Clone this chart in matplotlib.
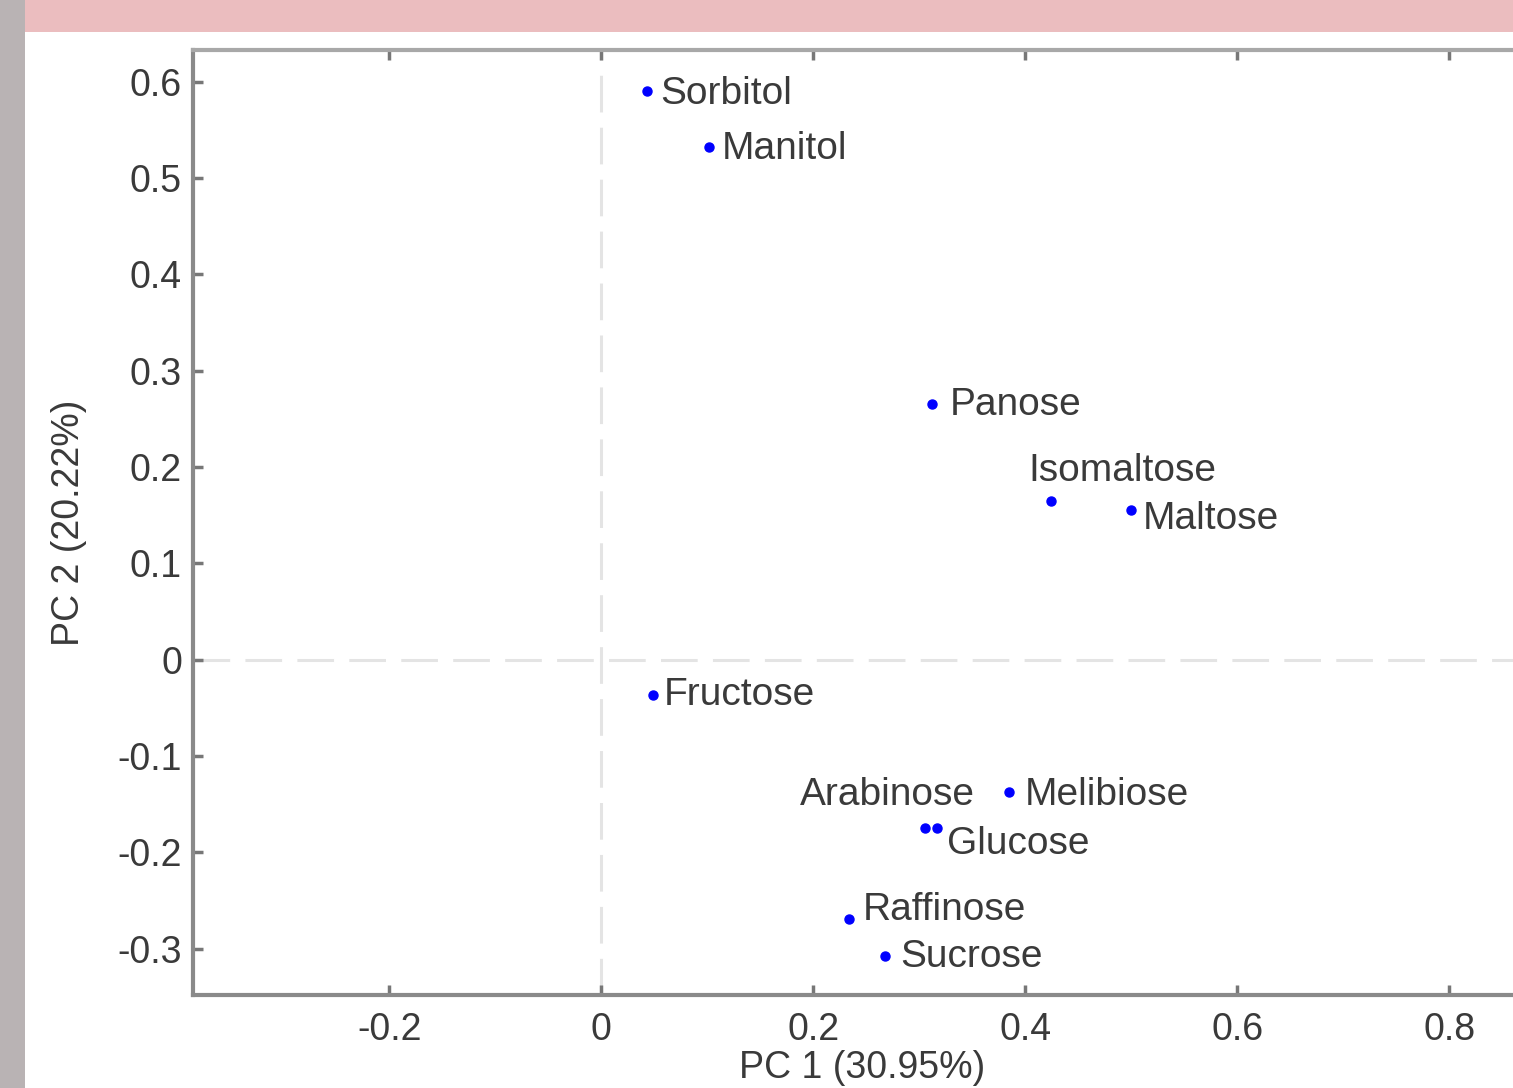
import matplotlib
matplotlib.use("Agg")
import matplotlib.pyplot as plt
from matplotlib.patches import Rectangle

plt.rcParams['font.family'] = ['Liberation Sans', 'DejaVu Sans']

names = ["Sorbitol", "Manitol", "Panose", "Isomaltose", "Maltose", "Fructose",
         "Melibiose", "Arabinose", "Glucose", "Raffinose", "Sucrose"]
pc1 = [0.043, 0.102, 0.312, 0.424, 0.500, 0.049, 0.385, 0.305, 0.317, 0.234, 0.268]
pc2 = [0.590, 0.532, 0.266, 0.165, 0.155, -0.037, -0.137, -0.175, -0.175, -0.269, -0.307]
xticks = [-0.2, 0, 0.2, 0.4, 0.6, 0.8]
xticklabels = ["-0.2", "0", "0.2", "0.4", "0.6", "0.8"]
yticks = [-0.3, -0.2, -0.1, 0, 0.1, 0.2, 0.3, 0.4, 0.5, 0.6]
yticklabels = ["-0.3", "-0.2", "-0.1", "0", "0.1", "0.2", "0.3", "0.4", "0.5", "0.6"]
xlabel = "PC 1 (30.95%)"
ylabel = "PC 2 (20.22%)"

# label offsets in points (dx, dy, ha)
offsets = {
    "Sorbitol": (10, -2, "left"),
    "Manitol": (9, -1, "left"),
    "Panose": (13, -1, "left"),
    "Isomaltose": (-16, 21.5, "left"),
    "Maltose": (8, -6.5, "left"),
    "Fructose": (8, 0, "left"),
    "Melibiose": (11, -2, "left"),
    "Arabinose": (36, 24, "right"),
    "Glucose": (7, -11, "left"),
    "Raffinose": (10, 6.5, "left"),
    "Sucrose": (11, -1, "left"),
}

W, H = 1513, 1088
fig = plt.figure(figsize=(W / 100, H / 100), dpi=100)
fig.patch.set_facecolor("#ebbdbf")

bg = fig.add_axes([0, 0, 1, 1], zorder=-5)
bg.set_xlim(0, W)
bg.set_ylim(H, 0)
bg.axis("off")
bg.add_patch(Rectangle((0, 0), 25, H, facecolor="#b9b3b4", edgecolor="none"))
bg.add_patch(Rectangle((25, 32), W - 25, H - 32, facecolor="white", edgecolor="none"))

ax = fig.add_axes([193 / W, 1 - 995 / H, (1531 - 193) / W, (995 - 50) / H], zorder=1)
ax.set_facecolor("none")
ax.set_xlim(-0.385, 0.877)
ax.set_ylim(-0.348, 0.633)

ax.axhline(0, color="#e4e4e4", lw=2.2, dashes=(12, 5), zorder=1)
ax.axvline(0, color="#e4e4e4", lw=2.2, dashes=(12, 5), zorder=1)

ax.plot(pc1, pc2, "o", color="#0000ff", ms=6.5, zorder=3, linestyle="none")

for n, x, y in zip(names, pc1, pc2):
    dx, dy, ha = offsets[n]
    ax.annotate(n, (x, y), xytext=(dx, dy), textcoords="offset points",
                ha=ha, va="center", fontsize=28, color="#3a3a3a")

ax.set_xticks(xticks)
ax.set_xticklabels(xticklabels)
ax.set_yticks(yticks)
ax.set_yticklabels(yticklabels)
ax.tick_params(axis="both", direction="in", length=7, width=2.5, color="#777777",
               labelsize=27, labelcolor="#3a3a3a")
ax.tick_params(axis="x", top=True, bottom=True, pad=12)
ax.tick_params(axis="y", left=True, right=False, pad=8)

for side in ["left", "bottom", "top", "right"]:
    ax.spines[side].set_color("#8a8a8a")
    ax.spines[side].set_linewidth(3)
ax.spines["top"].set_color("#a8a8a8")

ax.set_xlabel(xlabel, fontsize=27, color="#3a3a3a", labelpad=2)
ax.set_ylabel(ylabel, fontsize=27, color="#3a3a3a", labelpad=22)

fig.savefig("out.png", dpi=100, facecolor=fig.get_facecolor())
